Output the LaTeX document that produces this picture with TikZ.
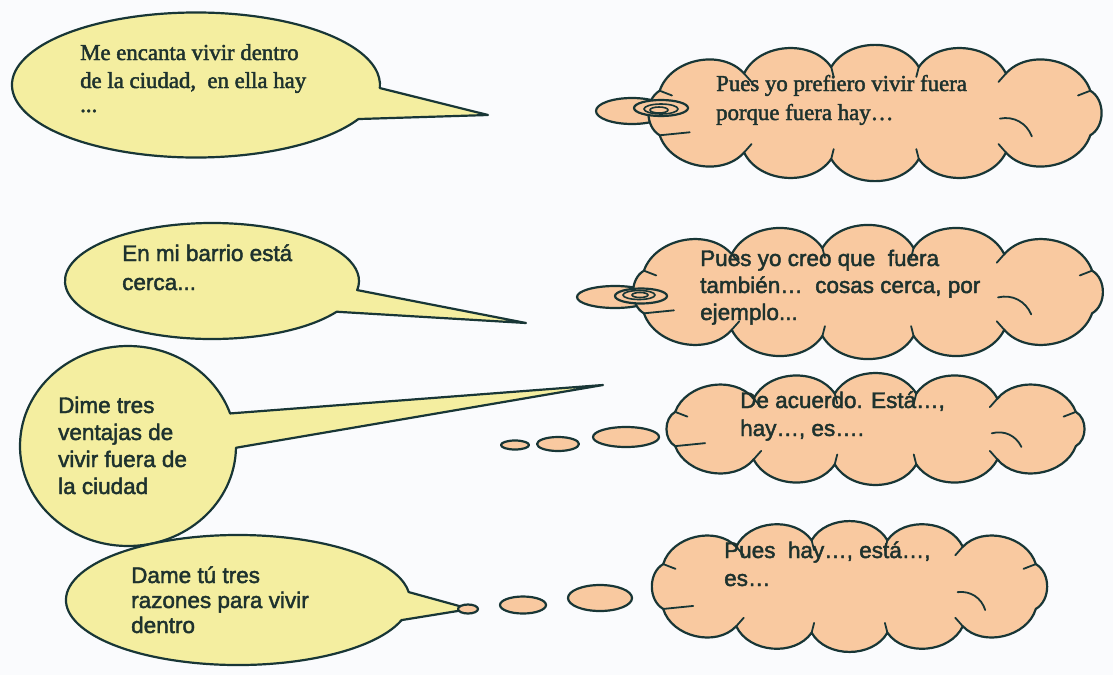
\documentclass[tikz,border=0pt]{standalone}
\usepackage{fontspec}
\setmainfont{Liberation Serif}[FakeBold=2]
\newfontfamily\sansf{Liberation Sans}[FakeBold=2]
\usetikzlibrary{calc}
\definecolor{bgc}{HTML}{FAFBFD}
\definecolor{yfill}{HTML}{F4EEA0}
\definecolor{pfill}{HTML}{F9C9A0}
\definecolor{edge}{HTML}{183636}
\definecolor{txt}{HTML}{1E322E}
\tikzset{
  ybub/.style={fill=yfill, draw=edge, line width=2.2pt, line join=round},
  pbub/.style={fill=pfill, draw=edge, line width=2.2pt, line join=round},
  hook/.style={draw=edge, line width=1.8pt, line cap=round},
  sertxt/.style={anchor=base west, inner sep=0pt, text=txt, font=\fontsize{22.8}{28}\selectfont},
  santxt/.style={anchor=base west, inner sep=0pt, text=txt, font=\sansf\fontsize{22.5}{28}\selectfont},
}
% cloud: #1 cx, #2 cy, #3 rx, #4 ry
\newcommand{\mycloud}[4]{%
  \filldraw[pbub] ($(#1,#2)+(28.5:#3 and #4)$)
    \foreach \a in {57.7,79.7,100.3,122.3,151.5,208.5,237.7,259.7,280.3,302.3,331.5,388.5}
      { to[bend left=60] ($(#1,#2)+(\a:#3 and #4)$) } -- cycle;
  \foreach \a in {57.7,79.7,100.3,122.3,208.5,237.7,259.7,280.3,302.3,331.5}
    { \draw[hook] ($(#1,#2)+(\a:#3 and #4)$) -- ($(#1,#2)+(\a:#3-14 and #4-10)$); }
  \draw[hook] ($(#1,#2)+(151.5:#3 and #4)$) -- ++(30,-3);
  \draw[hook] ($(#1,#2)+(0.51*#3,0.12*#4)$) to[bend left=40] ($(#1,#2)+(0.64*#3,0.5*#4)$);
}
\begin{document}
\begin{tikzpicture}[x=1pt,y=-1pt]
\fill[bgc] (0,0) rectangle (1113,675);
\useasboundingbox (0,0) rectangle (1113,675);

% ---------- speech bubbles (yellow) ----------
\coordinate (tip1) at (488,115);
\filldraw[ybub] (tip1) -- ($(196,85)+(28:184 and 72.5)$)
  arc[start angle=28, end angle=362.4, x radius=184, y radius=72.5] -- cycle;

\coordinate (tip2) at (526,323);
\filldraw[ybub] (tip2) -- ($(212,281)+(32:147 and 58)$)
  arc[start angle=32, end angle=369, x radius=147, y radius=58] -- cycle;

\coordinate (tip3) at (603,385);
\filldraw[ybub] (tip3) -- ($(128,446)+(1:108 and 100)$)
  arc[start angle=1, end angle=341, x radius=108, y radius=100] -- cycle;

\coordinate (tip4) at (470,609);
\filldraw[ybub] (tip4) -- ($(238,600)+(18:172 and 65)$)
  arc[start angle=18, end angle=353, x radius=172, y radius=65] -- cycle;

% ---------- thought clouds (peach) ----------
% cloud 1
\filldraw[pbub] (632,111) ellipse[x radius=36, y radius=13];
\mycloud{875}{113}{245}{46.7}
\filldraw[pbub] (661,108) ellipse[x radius=27, y radius=8];
\draw[edge, line width=1.6pt] (661,109) ellipse[x radius=17, y radius=5];
\draw[edge, line width=1.6pt] (659,110) ellipse[x radius=9, y radius=3];

% cloud 2
\filldraw[pbub] (615,297) ellipse[x radius=38, y radius=11];
\mycloud{868}{292}{255}{44.7}
\filldraw[pbub] (641,296) ellipse[x radius=26, y radius=7.5];
\draw[edge, line width=1.6pt] (639,295) ellipse[x radius=16, y radius=4.5];
\draw[edge, line width=1.6pt] (640,295) ellipse[x radius=8, y radius=2.5];

% cloud 3
\mycloud{875.5}{429}{228}{35.9}
\filldraw[pbub] (515,445) ellipse[x radius=14, y radius=4.5];
\filldraw[pbub] (558,444) ellipse[x radius=21, y radius=7];
\filldraw[pbub] (626,437) ellipse[x radius=33, y radius=10];

% cloud 4
\mycloud{849.5}{586.5}{212}{47}
\filldraw[pbub] (468,609) ellipse[x radius=10, y radius=4.5];
\filldraw[pbub] (523,605) ellipse[x radius=23, y radius=8.5];
\filldraw[pbub] (600,598) ellipse[x radius=32, y radius=13];

% ---------- texts ----------
\node[sertxt] (t1) at (80,60) {\vtop{\hbox{Me encanta vivir dentro}\hbox{de la ciudad,\ \ en ella hay}\vskip-4pt\hbox{...}}};
\node[sertxt] (c1) at (716,91) {\vtop{\baselineskip=29pt\hbox{Pues yo prefiero vivir fuera}\hbox{porque fuera hay…}}};
\node[santxt] (t2) at (122,261) {\vtop{\baselineskip=29pt\hbox{En mi barrio está}\hbox{cerca...}}};
\node[santxt] (c2) at (700,266) {\vtop{\baselineskip=27pt\hbox{Pues yo creo que\ \ fuera}\hbox{también…\ \ cosas cerca, por}\hbox{ejemplo...}}};
\node[santxt] (t3) at (58,413) {\vtop{\baselineskip=27pt\hbox{Dime tres}\hbox{ventajas de}\hbox{vivir fuera de}\hbox{la ciudad}}};
\node[santxt] (c3) at (740,408) {\vtop{\baselineskip=28pt\hbox{De acuerdo. Está…,}\hbox{hay…, es….}}};
\node[santxt] (t4) at (131,583) {\vtop{\baselineskip=25pt\hbox{Dame tú tres}\hbox{razones para vivir}\hbox{dentro}}};
\node[santxt] (c4) at (724,558) {\vtop{\baselineskip=28pt\hbox{Pues\ \ hay…, está…,}\hbox{es…}}};
\end{tikzpicture}
\end{document}
